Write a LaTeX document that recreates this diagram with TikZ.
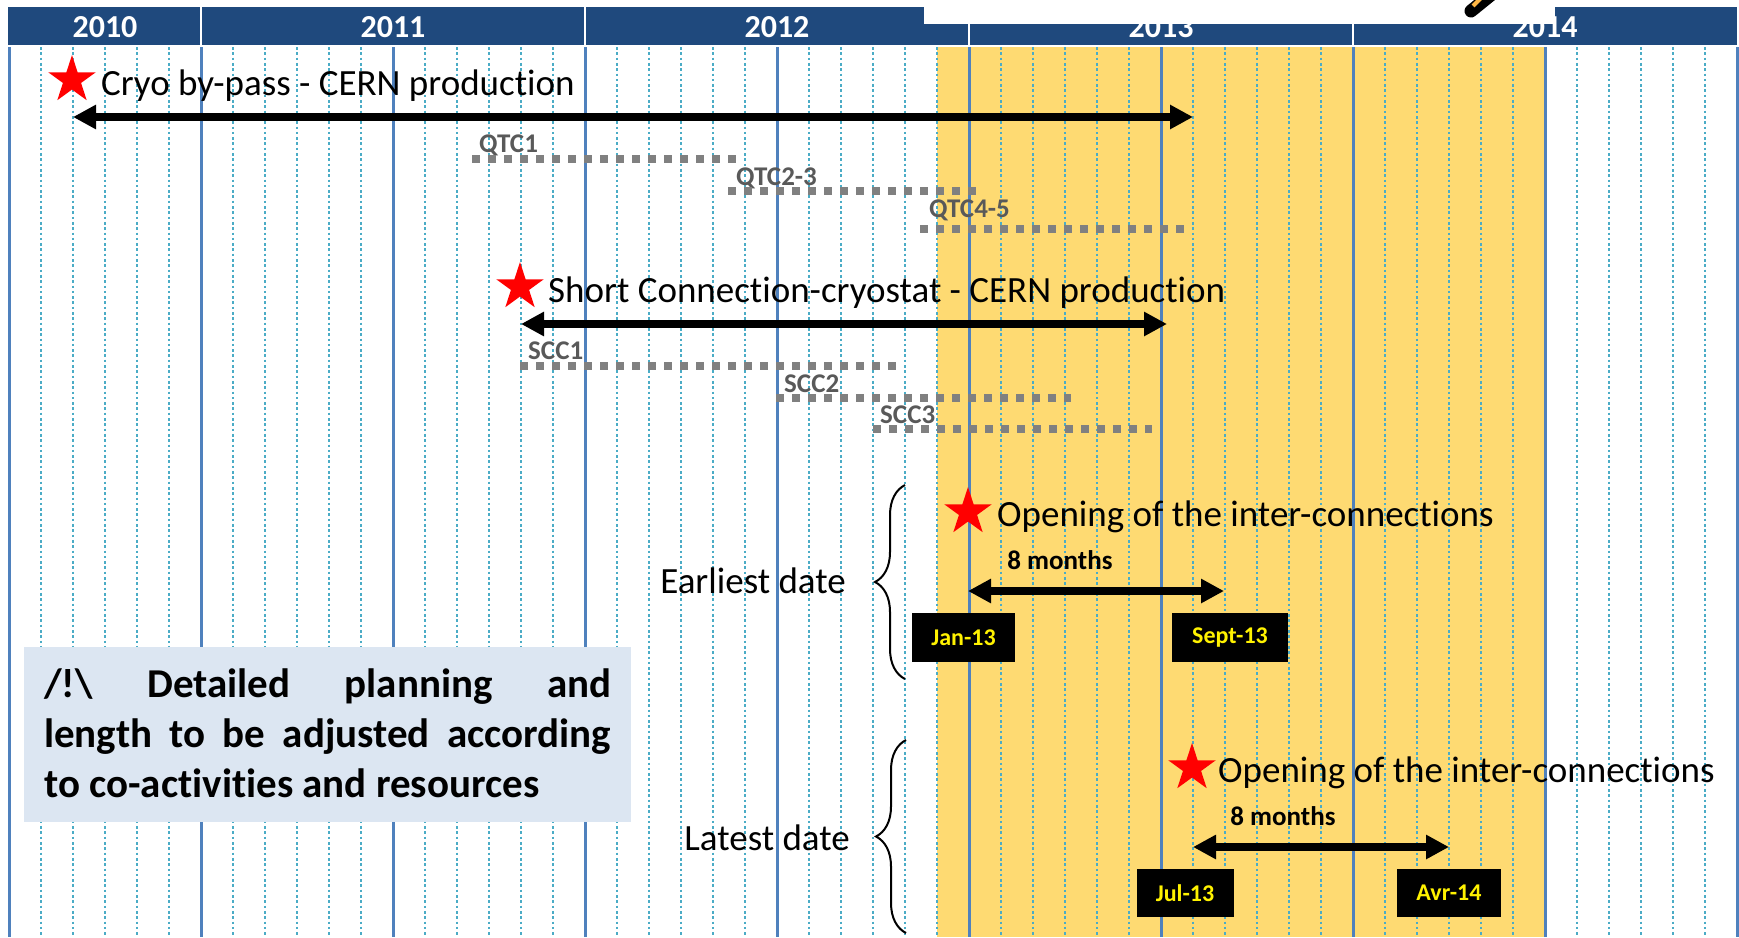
\documentclass[tikz,border=0pt]{standalone}
\usepackage{fontspec}
\setmainfont{Carlito}[Ligatures=CommonOff]
\usetikzlibrary{arrows.meta,shapes.geometric,decorations.pathreplacing}
\definecolor{hdrblue}{RGB}{31,73,125}
\definecolor{gridblue}{RGB}{79,129,189}
\definecolor{griddot}{RGB}{75,172,198}
\definecolor{band}{RGB}{254,218,114}
\definecolor{notefill}{RGB}{220,230,242}
\definecolor{labgray}{RGB}{89,89,89}
\definecolor{dashgray}{RGB}{128,128,128}

\begin{document}
\begin{tikzpicture}[x=1pt,y=-1pt,
    yearlab/.style={text=white,font=\fontsize{32}{38}\selectfont\bfseries,inner sep=0pt,anchor=base},
    bigtext/.style={font=\fontsize{37}{44}\selectfont,inner sep=0pt},
    taglab/.style={font=\fontsize{27}{32}\selectfont\bfseries,inner sep=0pt},
    graytag/.style={taglab,text=labgray,anchor=base west},
    ganttbar/.style={draw=dashgray,line width=8pt,dash pattern=on 8pt off 8pt},
    twoway/.style={line width=8pt,{Triangle[length=23pt,width=23pt]}-{Triangle[length=23pt,width=23pt]}},
    redstar/.style={star,star points=5,star point ratio=2.618,fill=red,inner sep=0pt,minimum size=50pt},
    datebox/.style={fill=black,text=yellow,font=\fontsize{24}{28}\selectfont\bfseries,minimum height=49pt,inner sep=0pt},
    brc/.style={decorate,decoration={brace,amplitude=30pt},line width=2pt}]
  \useasboundingbox (0,0) rectangle (1739,937);

  % year header
  \fill[hdrblue] (8,7) rectangle (1737,45);
  \foreach \m in {6,18,30,42}
    \draw[white,line width=2pt] ({9+32*\m},7) -- ({9+32*\m},45);
  \node[yearlab] (y2010) at (105,37) {2010};
  \node[yearlab] (y2011) at (393,37) {2011};
  \node[yearlab] (y2012) at (777,37) {2012};
  \node[yearlab] (y2013) at (1161,37) {2013};
  \node[yearlab] (y2014) at (1545,37) {2014};
  \fill[white] (924,-1) rectangle (1555,24);
  \draw[line width=13pt,line cap=round] (1471,11) -- (1492,-6);
  \draw[band!60!orange,line width=4pt] (1473,6) -- (1482,-3);

  % months
  \fill[band] (937,47) rectangle (1545,937);
  \foreach \m in {0,...,54}
    \draw[griddot,line width=2.6pt,dash pattern=on 2.6pt off 2.7pt] ({9+32*\m},47) -- ({9+32*\m},935);
  \foreach \m in {0,6,...,54}
    \draw[gridblue,line width=3pt] ({9+32*\m},47) -- ({9+32*\m},937);

  % cryo by-pass
  \node[redstar] (s1) at (72,80) {};
  \node[bigtext,anchor=base west] (cryo) at (101,95) {Cryo by-pass - CERN production};
  \coordinate (c1a) at (73,117);
  \coordinate (c1b) at (1193,117);
  \draw[twoway] (c1a) -- (c1b);
  \node[graytag] (qtc1) at (479,152) {QTC1};
  \draw[ganttbar] (472,159) -- (736,159);
  \node[graytag] (qtc23) at (736,185) {QTC2-3};
  \draw[ganttbar] (728,191) -- (976,191);
  \node[graytag] (qtc45) at (929,217) {QTC4-5};
  \draw[ganttbar] (920,229) -- (1184,229);

  % short connection cryostat
  \node[redstar] (s2) at (520,287) {};
  \node[bigtext,anchor=base west] (scc) at (548,302) {Short Connection-cryostat - CERN production};
  \coordinate (c2a) at (521,324);
  \coordinate (c2b) at (1167,324);
  \draw[twoway] (c2a) -- (c2b);
  \node[graytag] (scc1) at (528,359) {SCC1};
  \draw[ganttbar] (520,366) -- (897,366);
  \node[graytag] (scc2) at (784,392) {SCC2};
  \draw[ganttbar] (776,398) -- (1071,398);
  \node[graytag] (scc3) at (880,423) {SCC3};
  \draw[ganttbar] (873,429) -- (1152,429);

  % earliest opening
  \draw[brc] (905,679) -- (905,485);
  \node[bigtext,anchor=base east] (early) at (846,593) {Earliest date};
  \node[redstar] (s3) at (968,512) {};
  \node[bigtext,anchor=base west] (open1) at (997,526) {Opening of the inter-connections};
  \node[taglab] (m1) at (1060,560) {8 months};
  \coordinate (e1) at (968,591);
  \coordinate (e2) at (1224,591);
  \draw[twoway] (e1) -- (e2);
  \node[datebox,minimum width=103pt] (jan) at (963.5,637.5) {Jan-13};
  \node[datebox,minimum width=116pt] (sep) at (1230,637.5) {Sept-13};

  % latest opening
  \draw[brc] (906,933) -- (906,740);
  \node[bigtext,anchor=base east] (late) at (850,850) {Latest date};
  \node[redstar] (s4) at (1192,768) {};
  \node[bigtext,anchor=base west] (open2) at (1218,782) {Opening of the inter-connections};
  \node[taglab] (m2) at (1283,816) {8 months};
  \coordinate (l1) at (1193,847);
  \coordinate (l2) at (1449,847);
  \draw[twoway] (l1) -- (l2);
  \node[datebox,minimum width=97pt,minimum height=48pt] (jul) at (1185,893) {Jul-13};
  \node[datebox,minimum width=104pt,minimum height=48pt] (apr) at (1449,893) {Avr-14};

  % warning note
  \fill[notefill] (24,647) rectangle (631,822);
  \node[anchor=base west,inner sep=0pt,font=\fontsize{41}{50}\selectfont\bfseries] (note) at (44,697)
    {\parbox[t]{567pt}{/!\textbackslash{} Detailed planning and\linebreak
      length to be adjusted according\linebreak to co-activities and resources}};
\end{tikzpicture}
\end{document}
